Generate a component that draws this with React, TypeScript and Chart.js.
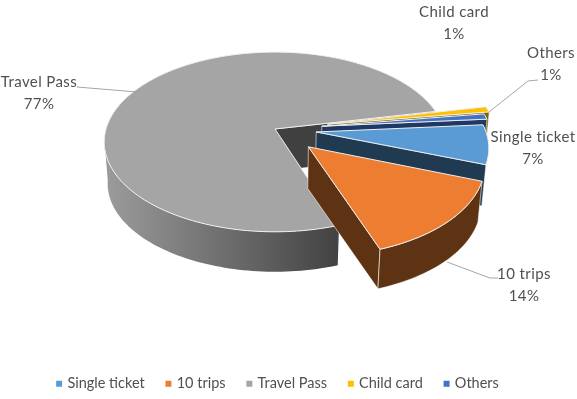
import React, { useEffect, useRef } from "react";
import { Chart, registerables } from "chart.js";

Chart.register(...registerables);

const categories = ["Single ticket", "10 trips", "Travel Pass", "Child card", "Others"];
const shares = [7, 14, 77, 1, 1];
const topColors = ["#5B9BD5", "#ED7D31", "#A5A5A5", "#FFC000", "#4472C4"];
const wallColors = ["#203A52", "#5E3313", "#404040", "#7F6000", "#1F3864"];
// How far each slice is pulled from the centre, as a fraction of the radius.
const explode = [0.245, 0.275, 0, 0.32, 0.28];
// Far slices are painted first so nearer ones overlap them.
const paintOrder = [2, 3, 4, 0, 1];

// Pie projection: a tilted disc seen with mild perspective.
const VIEW = { cx: 275, cy: 129, rx: 169, ry: 88, persp: 0.144, depth: 42, shrink: 0.98 };

const project = (u: number, v: number): [number, number] => {
  const w = 1 - VIEW.persp * v;
  return [VIEW.cx + (VIEW.rx * u) / w, VIEW.cy + (VIEW.ry * v) / w];
};
const lower = ([x, y]: [number, number]): [number, number] => [
  VIEW.cx + (x - VIEW.cx) * VIEW.shrink,
  VIEW.cy + (y - VIEW.cy) * VIEW.shrink + VIEW.depth,
];

const SEGMENTS_PER_RAD = 40;

function sampleAngles(a: number, b: number): number[] {
  const n = Math.max(2, Math.ceil((b - a) * SEGMENTS_PER_RAD));
  const out: number[] = [];
  for (let i = 0; i <= n; i++) out.push(a + ((b - a) * i) / n);
  return out;
}

function tracePolygon(ctx: CanvasRenderingContext2D, pts: [number, number][]) {
  ctx.beginPath();
  pts.forEach(([x, y], i) => (i ? ctx.lineTo(x, y) : ctx.moveTo(x, y)));
  ctx.closePath();
}

const pie3d = {
  id: "pie3d",
  beforeDatasetsDraw(chart: any) {
    const ctx: CanvasRenderingContext2D = chart.ctx;
    const arcs = chart.getDatasetMeta(0).data;
    ctx.save();
    ctx.lineJoin = "round";
    for (const i of paintOrder) {
      const arc = arcs[i];
      const start = arc.startAngle;
      const end = arc.endAngle;
      const mid = (start + end) / 2;
      const ox = explode[i] * Math.cos(mid);
      const oy = explode[i] * Math.sin(mid);
      const at = (t: number) => project(ox + Math.cos(t), oy + Math.sin(t));
      const apex = project(ox, oy);

      // Straight wall on the trailing edge, when it faces the viewer.
      if (Math.cos(end) > 0) {
        const edge = [apex, at(end), lower(at(end)), lower(apex)] as [number, number][];
        tracePolygon(ctx, edge);
        ctx.fillStyle = wallColors[i];
        ctx.fill();
        ctx.strokeStyle = "rgba(255,255,255,0.7)";
        ctx.lineWidth = 0.8;
        ctx.stroke();
      }

      // Curved outer wall for the part of the rim on the near side;
      // slices lying almost sideways keep theirs hidden behind their neighbours.
      const reachesFront = Math.sin(end) > 0.5 || Math.sin(start) > 0.5;
      const front: number[] = sampleAngles(start, end).filter((t) => Math.sin(t) > VIEW.persp * 0.6);
      if (reachesFront && front.length > 1) {
        const upper = front.map(at);
        const rim = [...upper, ...upper.map(lower).reverse()];
        tracePolygon(ctx, rim);
        if (i === 2) {
          const g = ctx.createLinearGradient(104, 0, 336, 0);
          g.addColorStop(0, "#9C9C9C");
          g.addColorStop(1, "#434343");
          ctx.fillStyle = g;
          ctx.fill();
        } else {
          ctx.fillStyle = wallColors[i];
          ctx.fill();
          ctx.strokeStyle = "rgba(255,255,255,0.7)";
          ctx.lineWidth = 0.8;
          ctx.stroke();
        }
      }

      // Top face of the slice.
      tracePolygon(ctx, [apex, ...sampleAngles(start, end).map(at)]);
      ctx.fillStyle = topColors[i];
      ctx.fill();
      ctx.strokeStyle = "#EFEFEF";
      ctx.lineWidth = 1;
      ctx.stroke();
    }
    ctx.restore();
    return false;
  },
};

// Callout labels with the leader lines that tie them to their slices.
const callouts = [
  { i: 2, x: 39, y: 82, leader: [[77, 87], [137, 92]] },
  { i: 3, x: 454, y: 12, leader: [] },
  { i: 4, x: 551, y: 53, leader: [[538, 80], [528, 81], [489, 112]] },
  { i: 0, x: 533, y: 137, leader: [] },
  { i: 1, x: 524, y: 274, leader: [[447, 262], [490, 278], [498, 278]] },
];

const calloutPlugin = {
  id: "callouts",
  afterDraw(chart: any) {
    const ctx: CanvasRenderingContext2D = chart.ctx;
    ctx.save();
    ctx.strokeStyle = "#A6A6A6";
    ctx.lineWidth = 1;
    for (const c of callouts) {
      if (c.leader.length) {
        ctx.beginPath();
        c.leader.forEach(([x, y], k) => (k ? ctx.lineTo(x, y) : ctx.moveTo(x, y)));
        ctx.stroke();
      }
    }
    ctx.fillStyle = "#505050";
    ctx.font = "15px Lato";
    (ctx as any).letterSpacing = "0.4px";
    ctx.textAlign = "center";
    ctx.textBaseline = "middle";
    for (const c of callouts) {
      ctx.fillText(categories[c.i], c.x, c.y);
      ctx.fillText(`${shares[c.i]}%`, c.x, c.y + 22);
    }
    ctx.restore();
  },
};

export default function App() {
  const canvasRef = useRef<HTMLCanvasElement>(null);

  useEffect(() => {
    document.body.style.margin = "0";
    const chart = new Chart(canvasRef.current!, {
      type: "pie",
      data: {
        labels: categories,
        datasets: [
          {
            data: shares,
            backgroundColor: topColors,
            borderWidth: 0,
          },
        ],
      },
      options: {
        responsive: false,
        animation: false,
        rotation: 85.3,
        layout: { padding: { bottom: -2, right: 20 } },
        plugins: {
          tooltip: { enabled: false },
          legend: {
            position: "bottom",
            labels: {
              usePointStyle: true,
              pointStyle: "rect",
              boxWidth: 2,
              boxHeight: 6,
              padding: 22.75,
              color: "#505050",
              font: { family: "Lato", size: 14.5 },
            },
          },
        },
      },
      plugins: [pie3d, calloutPlugin],
    } as any);
    return () => chart.destroy();
  }, []);

  return (
    <div style={{ position: "absolute", left: 0, top: 0, width: 577, height: 399, background: "#fff" }}>
      <canvas ref={canvasRef} width={577} height={399} style={{ display: "block" }} />
    </div>
  );
}
